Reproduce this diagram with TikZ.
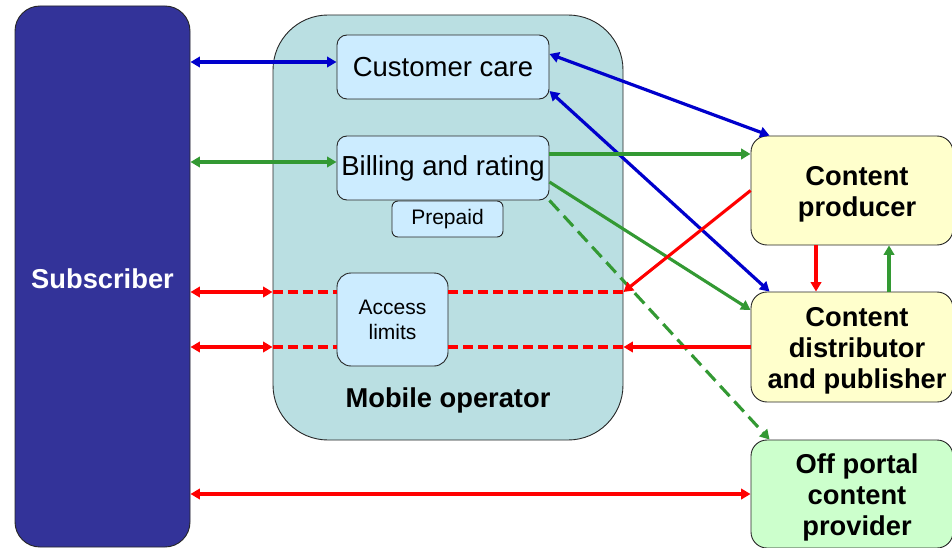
\documentclass[tikz,border=0pt]{standalone}
\usepackage{fontspec}
\setmainfont{Liberation Sans}
\usetikzlibrary{arrows.meta,calc}
\definecolor{subblue}{HTML}{333399}
\definecolor{opteal}{HTML}{BADFE2}
\definecolor{unitblue}{HTML}{CCECFF}
\definecolor{cream}{HTML}{FFFFCC}
\definecolor{mint}{HTML}{CCFFCC}
\definecolor{lnblue}{HTML}{0000CC}
\definecolor{lngreen}{HTML}{339933}
\definecolor{lnred}{HTML}{FF0000}
\begin{document}
\begin{tikzpicture}[x=1pt,y=-1pt,
  >={Triangle[length=9.5pt,width=10.5pt]},
  box/.style={draw=black!85, line width=0.9pt, rounded corners=#1, inner sep=0pt, align=center},
  bigbold/.style={font=\bfseries\fontsize{27.3}{31}\selectfont, align=center},
  bigreg/.style={font=\fontsize{27.5}{31}\selectfont},
  smallreg/.style={font=\fontsize{21}{25}\selectfont},
  bl/.style={draw=lnblue, line width=3.2pt},
  gr/.style={draw=lngreen, line width=3.1pt},
  rd/.style={draw=lnred, line width=3.1pt},
  rddash/.style={rd, dash pattern=on 10pt off 5pt},
  grdash/.style={gr, dash pattern=on 14pt off 7pt}]
\useasboundingbox[fill=white] (0,0) rectangle (952,548);

% actors and operator
\node[box=25pt, fill=subblue, minimum width=175pt, minimum height=541pt] (sub) at (102.5,276.5) {};
\node[bigbold, text=white] (subt) at (102.5,278.5) {Subscriber};
\node[box=55pt, fill=opteal, minimum width=350pt, minimum height=425pt] (mo) at (448,227.5) {};
\node[bigbold] (molab) at (448,400) {Mobile operator};

% operator functions
\node[box=10pt, fill=unitblue, minimum width=212pt, minimum height=64pt, bigreg] (cc) at (443,67) {Customer care};
\node[box=10pt, fill=unitblue, minimum width=212pt, minimum height=64pt, bigreg] (br) at (443,168) {Billing and rating};
\node[box=6pt, fill=unitblue, minimum width=111pt, minimum height=36pt, smallreg] (pp) at (447.5,219) {Prepaid};
\node[box=14pt, fill=unitblue, minimum width=111pt, minimum height=93pt, smallreg] (al) at (392.5,319.5) {Access\\limits};

% content side
\node[box=16pt, fill=cream, minimum width=202pt, minimum height=109pt] (cp) at (852,190.5) {};
\node[bigbold] (cpt) at (857,194) {Content\\producer};
\node[box=16pt, fill=cream, minimum width=202pt, minimum height=110pt] (cd) at (852,347) {};
\node[bigbold] (cdt) at (857,350.5) {Content\\distributor\\and publisher};
\node[box=16pt, fill=mint, minimum width=202pt, minimum height=108pt] (op) at (852,494) {};
\node[bigbold] (opt) at (857,497) {Off portal\\content\\provider};

% connection points
\coordinate (ccL) at ([yshift=5pt]cc.west);
\coordinate (ccA) at ([yshift=13pt]cc.east);
\coordinate (ccB) at ([yshift=-24pt]cc.east);
\coordinate (brL) at ([yshift=6pt]br.west);
\coordinate (brA) at ([yshift=14pt]br.east);
\coordinate (brB) at ([yshift=-14pt]br.east);
\coordinate (alU) at ([yshift=27.5pt]al.west);
\coordinate (alD) at ([yshift=-27.5pt]al.west);
\coordinate (cpS) at ([xshift=-36pt]cp.south);
\coordinate (cdN) at ([xshift=37pt]cd.north);

% blue: customer care
\draw[bl,<->] (sub.east |- ccL) -- (ccL);
\draw[bl,<->] (ccA) -- ([xshift=19pt]cp.north west);
\draw[bl,<->] (ccB) -- ([xshift=19pt]cd.north west);

% green: billing
\draw[gr,<->] (sub.east |- brL) -- (brL);
\draw[gr,->] (brA) -- (cp.west |- brA);
\draw[gr,->] (brB) -- ([yshift=37pt]cd.west);
\draw[grdash,->] (br.south east) -- ([xshift=19pt]op.north west);
\draw[gr,->] (cdN) -- (cp.south -| cdN);

% red: access limits and delivery
\draw[rd,<->] (sub.east |- alU) -- (mo.west |- alU);
\draw[rddash] (mo.west |- alU) -- (alU);
\draw[rddash] (al.east |- alU) -- (mo.east |- alU);
\draw[rd,<->] (sub.east |- alD) -- (mo.west |- alD);
\draw[rddash] (mo.west |- alD) -- (alD);
\draw[rddash] (al.east |- alD) -- (mo.east |- alD);
\draw[rd,->] (cp.west) -- (mo.east |- alU);
\draw[rd,->] (cd.west) -- (mo.east |- cd.west);
\draw[rd,->] (cpS) -- (cd.north -| cpS);
\draw[rd,<->] (sub.east |- op.west) -- (op.west);
\end{tikzpicture}
\end{document}
